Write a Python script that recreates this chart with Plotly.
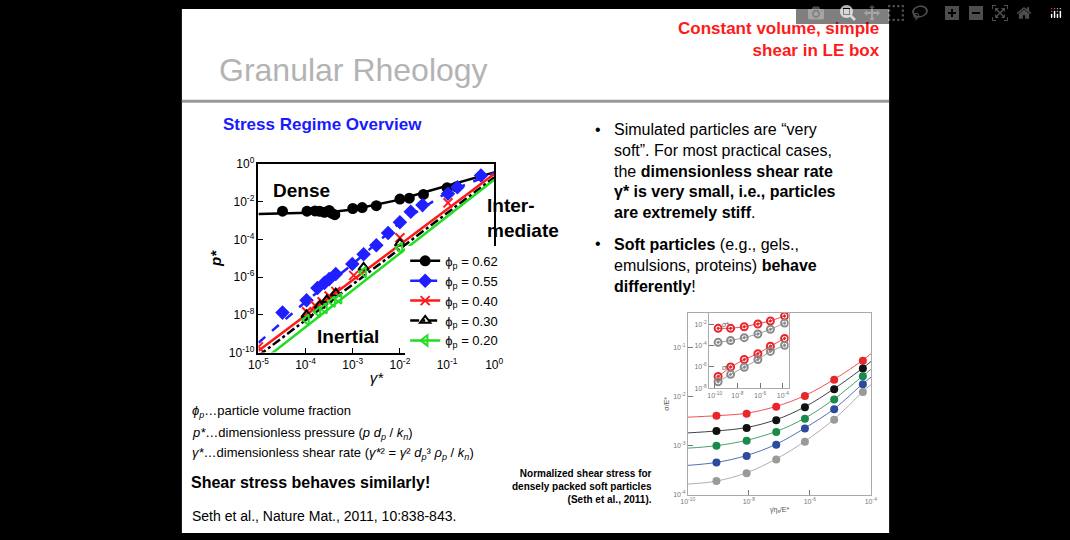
import plotly.graph_objects as go

# ---- main chart: p* vs gamma* (log10 exponents) ----
x62 = [-4.49, -3.97, -3.8, -3.7, -3.6, -3.5, -3.45, -3.38, -3.0, -2.8, -2.5, -2.0, -1.8, -1.5, -1.0, -0.8]
y62 = [-2.49, -2.49, -2.48, -2.5, -2.55, -2.45, -2.6, -2.68, -2.35, -2.3, -2.2, -1.85, -1.8, -1.6, -1.25, -1.2]
xl62 = [-5, -4, -3.5, -3, -2.5, -2, -1.5, -1, -0.5, 0]
yl62 = [-2.64, -2.6, -2.55, -2.4, -2.15, -1.88, -1.5, -1.13, -0.78, -0.43]

x55 = [-4.49, -3.98, -3.75, -3.6, -3.5, -3.36, -3.01, -2.77, -2.5, -2.25, -2.0, -1.77, -1.52, -0.98, -0.78, -0.28]
y55 = [-7.88, -7.22, -6.57, -6.3, -6.1, -5.83, -5.3, -4.78, -4.3, -3.65, -3.08, -2.52, -2.17, -1.57, -1.22, -0.6]
xl55 = [-5, -4, -3, -2, -1, 0]
yl55 = [-9.48, -7.3, -5.3, -3.1, -1.5, -0.45]

x40 = [-5.0, -3.98, -3.8, -3.65, -3.5, -3.36, -2.98, -2.0, -0.98]
y40 = [-9.7, -7.83, -7.5, -7.3, -7.0, -6.75, -5.9, -3.9, -2.05]
xl40 = [-5, 0]
yl40 = [-9.9, -0.52]

x30 = [-3.98, -3.7, -3.55, -3.36, -2.77, -2.0]
y30 = [-8.0, -7.5, -7.2, -6.85, -5.48, -4.2]
xl30 = [-5, 0]
yl30 = [-10.17, -0.7]

x20 = [-3.98, -3.74, -3.6, -3.43, -3.29, -2.77, -2.0]
y20 = [-8.26, -7.83, -7.65, -7.3, -7.13, -5.74, -4.43]
xl20 = [-5, 0]
yl20 = [-10.6, -0.82]

main_ticks_x = [-5, -4, -3, -2, -1, 0]
main_ticks_y = [0, -2, -4, -6, -8, -10]

# ---- small chart: sigma/E* vs shear rate ----
xs = [-9.06, -8.07, -7.1, -6.16, -5.2, -4.26]
ys_red = [-2.39, -2.35, -2.21, -1.99, -1.66, -1.27]
ys_black = [-2.7, -2.64, -2.48, -2.22, -1.85, -1.43]
ys_green = [-3.0, -2.9, -2.72, -2.45, -2.06, -1.59]
ys_blue = [-3.34, -3.21, -2.98, -2.65, -2.26, -1.75]
ys_gray = [-3.72, -3.56, -3.28, -2.92, -2.47, -1.91]
xs_line = [-10, -9.06, -8.07, -7.1, -6.16, -5.2, -4.26, -3.98]
ysl_red = [-2.42, -2.39, -2.34, -2.2, -1.98, -1.65, -1.26, -1.12]
ysl_black = [-2.74, -2.7, -2.63, -2.47, -2.21, -1.84, -1.42, -1.28]
ysl_green = [-3.05, -3.0, -2.89, -2.71, -2.44, -2.05, -1.58, -1.44]
ysl_blue = [-3.4, -3.34, -3.2, -2.97, -2.64, -2.25, -1.74, -1.6]
ysl_gray = [-3.78, -3.72, -3.55, -3.27, -2.91, -2.46, -1.9, -1.75]

# inset
xi = [-9.7, -8.6, -7.4, -6.2, -5.1, -3.85]
yi_red_top = [-2.35, -2.35, -2.2, -1.94, -1.65, -1.18]
yi_gray_top = [-3.67, -3.5, -3.23, -2.88, -2.44, -1.85]
yi_red_low = [-6.9, -6.0, -5.3, -4.74, -4.04, -3.3]
yi_gray_low = [-7.4, -6.7, -6.03, -5.3, -4.53, -3.95]

RED, BLUE, GREEN = "#ff1a1a", "#1f1fff", "#22dd22"


def pw(v):
    return [10 ** a for a in v]


def sup(e):
    return f"10<sup>{e}</sup>"


fig = go.Figure()

series = [
    (x62, y62, xl62, yl62, "black", "solid", "circle", "0.62"),
    (x55, y55, xl55, yl55, BLUE, "dash", "diamond", "0.55"),
    (x40, y40, xl40, yl40, RED, "solid", "x-thin", "0.40"),
    (x30, y30, xl30, yl30, "black", "dashdot", "triangle-up-open", "0.30"),
    (x20, y20, xl20, yl20, GREEN, "solid", "triangle-left-open", "0.20"),
]
for x, y, xl, yl, col, dash, sym, lab in series:
    fig.add_trace(go.Scatter(x=pw(xl), y=pw(yl), mode="lines", showlegend=False,
                             line=dict(color=col, width=2.5, dash=dash), xaxis="x", yaxis="y"))
    fig.add_trace(go.Scatter(x=pw(x), y=pw(y), mode="markers", showlegend=False,
                             marker=dict(symbol=sym, size=9, color=col, line=dict(color=col, width=2)),
                             xaxis="x", yaxis="y"))
    # legend entry showing line + marker
    fig.add_trace(go.Scatter(x=[None], y=[None], mode="lines+markers", name=f"ϕ<sub>p</sub> = {lab}",
                             line=dict(color=col, width=2.5, dash=dash),
                             marker=dict(symbol=sym, size=9, color=col, line=dict(color=col, width=2)),
                             xaxis="x", yaxis="y"))

# small chart
for ys, ysl, col in [(ys_red, ysl_red, "#e8262b"), (ys_black, ysl_black, "#111111"),
                     (ys_green, ysl_green, "#1a8a4a"), (ys_blue, ysl_blue, "#2b4aa0"),
                     (ys_gray, ysl_gray, "#9a9a9a")]:
    fig.add_trace(go.Scatter(x=pw(xs_line), y=pw(ysl), mode="lines", showlegend=False,
                             line=dict(color=col, width=0.8, shape="spline"), xaxis="x2", yaxis="y2"))
    fig.add_trace(go.Scatter(x=pw(xs), y=pw(ys), mode="markers", showlegend=False,
                             marker=dict(color=col, size=8), xaxis="x2", yaxis="y2"))

for yy, col in [(yi_red_top, "#e8262b"), (yi_gray_top, "#8a8a8a"),
                (yi_red_low, "#e8262b"), (yi_gray_low, "#8a8a8a")]:
    fig.add_trace(go.Scatter(x=pw(xi), y=pw(yy), mode="lines+markers", showlegend=False,
                             line=dict(color=col, width=0.8),
                             marker=dict(color=col, size=7, symbol="circle-open-dot", line=dict(width=2)),
                             xaxis="x3", yaxis="y3"))

axis_common = dict(type="log", showgrid=False, zeroline=False, mirror=True, showline=True,
                   linecolor="black", ticks="inside", color="black")

fig.update_layout(
    width=1070, height=540, autosize=False,
    margin=dict(l=0, r=0, t=0, b=0),
    paper_bgcolor="black", plot_bgcolor="white",
    font=dict(family="Liberation Sans, Arial", color="black"),
    xaxis=dict(axis_common, domain=[0.2364, 0.4607], range=[-5, 0], anchor="y",
               tickvals=pw(main_ticks_x), ticktext=[sup(v) for v in main_ticks_x],
               tickfont=dict(size=12), linewidth=1.5,
               title=dict(text="<i>γ*</i>", font=dict(size=15), standoff=2)),
    yaxis=dict(axis_common, domain=[0.3444, 0.7037], range=[-10, 0], anchor="x",
               tickvals=pw(main_ticks_y), ticktext=[sup(v) for v in main_ticks_y],
               tickfont=dict(size=12), linewidth=1.5,
               title=dict(text="<i><b>p*</b></i>", font=dict(size=15), standoff=4)),
    xaxis2=dict(axis_common, domain=[0.6449, 0.8196], range=[-10, -3.98], anchor="y2",
                linecolor="#aaaaaa", color="#777777",
                tickvals=pw([-10, -8, -6, -4]), ticktext=[sup(v) for v in [-10, -8, -6, -4]],
                tickfont=dict(size=7),
                title=dict(text="γ̇η<sub>s</sub>/E*", font=dict(size=7, color="#555"), standoff=2)),
    yaxis2=dict(axis_common, domain=[0.0728, 0.4204], range=[-4, -0.295], anchor="x2",
                linecolor="#aaaaaa", color="#777777",
                tickvals=pw([-1, -2, -3, -4]), ticktext=[sup(v) for v in [-1, -2, -3, -4]],
                tickfont=dict(size=7),
                title=dict(text="σ/E*", font=dict(size=7, color="#555"), standoff=2)),
    xaxis3=dict(axis_common, domain=[0.6651, 0.7408], range=[-10.5, -3.5], anchor="y3",
                linecolor="#aaaaaa", color="#777777",
                tickvals=pw([-10, -8, -6, -4]), ticktext=[sup(v) for v in [-10, -8, -6, -4]],
                tickfont=dict(size=7)),
    yaxis3=dict(axis_common, domain=[0.2765, 0.4198], range=[-8, -0.9], anchor="x3",
                linecolor="#aaaaaa", color="#777777",
                tickvals=pw([-2, -4, -6, -8]), ticktext=[sup(v) for v in [-2, -4, -6, -8]],
                tickfont=dict(size=7)),
    legend=dict(x=0.376, y=0.548, xanchor="left", yanchor="top", bgcolor="white",
                font=dict(size=13), tracegroupgap=0, itemwidth=30),
)

fig.add_shape(type="rect", xref="paper", yref="paper", x0=175 / 1070, x1=895 / 1070, y0=0, y1=1,
              fillcolor="white", line=dict(width=0), layer="below")
fig.add_shape(type="line", xref="paper", yref="paper", x0=175 / 1070, x1=895 / 1070,
              y0=1 - 95 / 540, y1=1 - 95 / 540, line=dict(color="#999999", width=3))


def txt(x, y, s, size, color="black", bold=False, align="left", xanchor="left", **kw):
    fig.add_annotation(xref="paper", yref="paper", x=x / 1070, y=1 - y / 540, text=f"<b>{s}</b>" if bold else s,
                       showarrow=False, xanchor=xanchor, yanchor="middle", align=align,
                       font=dict(size=size, color=color, family="Liberation Sans, Arial"), **kw)


txt(888, 31, "Constant volume, simple<br>shear in LE box", 17, RED, True, "right", "right")
txt(211, 63, "Granular Rheology", 32, "#b3b3b3")
txt(215, 119, "Stress Regime Overview", 17, "#1a1aff", True)
txt(266, 187, "Dense", 19, bold=True)
txt(484, 215, "Inter-<br>mediate", 19, bold=True)
txt(311, 337, "Inertial", 19, bold=True)

txt(594, 124, "•", 16)
txt(613, 167, "Simulated particles are “very<br>soft”. For most practical cases,<br>"
    "the <b>dimensionless shear rate</b><br><b>γ* is very small, i.e., particles</b><br>"
    "<b>are extremely stiff</b>.", 16)
txt(594, 242, "•", 16)
txt(613, 264, "<b>Soft particles</b> (e.g., gels.,<br>emulsions, proteins) <b>behave</b><br><b>differently</b>!", 16)

txt(183, 415, "<i>ϕ<sub>p</sub></i>…particle volume fraction", 13)
txt(183, 437, "<i>p*</i>…dimensionless pressure (<i>p d<sub>p</sub></i> / <i>k<sub>n</sub></i>)", 13)
txt(183, 458, "<i>γ*</i>…dimensionless shear rate (<i>γ*</i>² = <i>γ</i>² <i>d<sub>p</sub></i>³ <i>ρ<sub>p</sub></i> / <i>k<sub>n</sub></i>)", 13)
txt(182, 488, "Shear stress behaves similarly!", 16, bold=True)
txt(183, 522, "Seth et al., Nature Mat., 2011, 10:838-843.", 14)
txt(656, 492, "Normalized shear stress for<br>densely packed soft particles<br>(Seth et al., 2011).", 10,
    bold=True, align="right", xanchor="right")
txt(723, 325, "σ*", 7, "#555")
txt(723, 369, "σ*", 7, "#555")

fig.write_html("out.html",
               post_script="document.body.style.margin='0';document.body.style.overflow='hidden';")
